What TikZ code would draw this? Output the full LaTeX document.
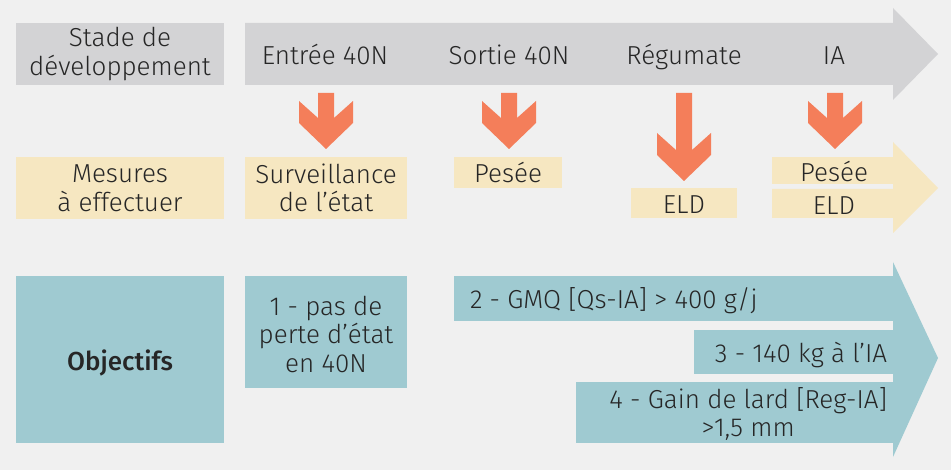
\documentclass[tikz,border=0pt]{standalone}
\usepackage{fontspec}
\setmainfont{Fira Sans}[UprightFont=* Light,BoldFont=* Medium]
\definecolor{bgc}{HTML}{F0F0F0}
\definecolor{grayc}{HTML}{D3D3D5}
\definecolor{yelc}{HTML}{F6E7C1}
\definecolor{tealc}{HTML}{9FCAD1}
\definecolor{orc}{HTML}{F47E5A}
\definecolor{txtc}{HTML}{262626}
\begin{document}
\begin{tikzpicture}[x=1pt,y=-1pt,
  lbl/.style={inner sep=0pt,outer sep=0pt,text=txtc,align=center,
    font=\fontsize{26}{28.5}\selectfont},
  one/.style={lbl,text height=18.5pt,text depth=0pt,yshift=-1pt},
  pics/orarrow/.style={code={
    \fill[orc] (-8,0)--(8,0)--(8,#1-31)--(27,#1-48)--(27,#1-26)--(0,#1)
      --(-27,#1-26)--(-27,#1-48)--(-8,#1-31)--cycle;}}]
\useasboundingbox (0,0) rectangle (951,470);
\fill[bgc] (0,0) rectangle (951,470);
% row 1
\fill[grayc] (16,23) rectangle (224,85);
\fill[grayc] (245,23)--(893,23)--(893,8)--(938,54)--(893,100)--(893,85)--(245,85)--cycle;
\node[lbl] (stade) at (120,54) {Stade de\\développement};
\node[one] (entree) at (325,54) {Entrée 40N};
\node[one] (sortie) at (509,54) {Sortie 40N};
\node[one] (regu) at (684,54) {Régumate};
\node[one] (ia) at (834,54) {IA};
% orange arrows
\pic at (326,93) {orarrow=56};
\pic at (509,93) {orarrow=56};
\pic at (684,93) {orarrow=88};
\pic at (835,93) {orarrow=56};
% row 2
\fill[yelc] (16,157) rectangle (224,219);
\fill[yelc] (245,157) rectangle (407,219);
\fill[yelc] (454,157) rectangle (562,188);
\fill[yelc] (631,188) rectangle (737,218);
\fill[yelc] (772,157) rectangle (893,184);
\fill[yelc] (772,189)--(893,189)--(893,142)--(938,188)--(893,233)--(893,218)--(772,218)--cycle;
\node[lbl] (mesures) at (120,188) {Mesures\\à effectuer};
\node[lbl] (surv) at (326,188) {Surveillance\\de l’état};
\node[one] (pesee1) at (508,172.5) {Pesée};
\node[one] (eld1) at (684,203) {ELD};
\node[one] (pesee2) at (834,171) {Pesée};
\node[one] (eld2) at (834,204) {ELD};
% row 3
\fill[tealc] (16,276) rectangle (224,443);
\fill[tealc] (245,276) rectangle (407,388);
\fill[tealc] (454,276) rectangle (893,321);
\fill[tealc] (694,330) rectangle (893,374);
\fill[tealc] (576,382) rectangle (893,443);
\fill[tealc] (893,262)--(938,358)--(893,457)--cycle;
\node[one,font=\fontsize{26}{28.5}\selectfont\bfseries] (obj) at (120,360) {Objectifs};
\node[lbl] (o1) at (326,334) {1 - pas de\\perte d’état\\en 40N};
\node[one,anchor=west] (o2) at (470,298.5) {2 - GMQ [Qs-IA] > 400 g/j};
\node[one,anchor=east] (o3) at (887,352) {3 - 140 kg à l’IA};
\node[lbl,anchor=east] (o4) at (887,414) {4 - Gain de lard [Reg-IA]\\>1,5 mm};
\end{tikzpicture}
\end{document}
